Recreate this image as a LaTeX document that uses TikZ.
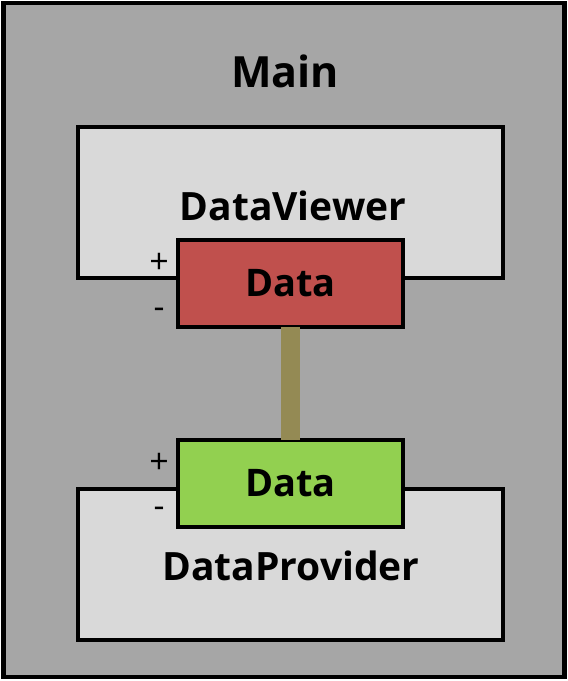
\documentclass[tikz,border=0pt]{standalone}
\usepackage{fontspec}
\setmainfont{Open Sans}
\definecolor{outerfill}{HTML}{A6A6A6}
\definecolor{innerfill}{HTML}{D9D9D9}
\definecolor{redport}{HTML}{C0504D}
\definecolor{greenport}{HTML}{92D050}
\definecolor{linkcol}{HTML}{948A54}
\begin{document}
\begin{tikzpicture}[x=1pt,y=-1pt,
  compbox/.style={draw=black,line width=3.5pt,fill=innerfill,inner sep=0pt,minimum width=425pt,minimum height=151pt},
  portbox/.style={draw=black,line width=3.5pt,inner sep=0pt,minimum width=225pt,minimum height=87pt,font=\fontsize{38}{40}\selectfont\bfseries},
  lbl/.style={font=\fontsize{39}{42}\selectfont\bfseries,inner sep=0pt},
  sign/.style={font=\fontsize{34}{36}\selectfont,inner sep=0pt}]
\useasboundingbox (0,0) rectangle (568,681);
\node[draw=black,line width=4.5pt,fill=outerfill,minimum width=561pt,minimum height=674pt,inner sep=0pt] (main) at (283.75,340) {};
\node[lbl,font=\fontsize{43}{46}\selectfont\bfseries] (mainlbl) at (285,71) {Main};
\node[compbox] (viewer) at (290.5,202.5) {};
\node[lbl] (viewerlbl) at (293,206) {DataViewer};
\node[compbox] (provider) at (290.5,564.5) {};
\node[lbl] (providerlbl) at (291,566) {DataProvider};
\node[portbox,fill=redport] (dred) at (290.5,283.5) {Data};
\node[portbox,fill=greenport] (dgreen) at (290.5,483.5) {Data};
\draw[linkcol,line width=19pt] ([yshift=2pt]dred.south) -- ([yshift=-2pt]dgreen.north);
\node[sign] (p1) at (159,263) {+};
\node[sign] (m1) at (159,313) {-};
\node[sign] (p2) at (159,463) {+};
\node[sign] (m2) at (159,512) {-};
\end{tikzpicture}
\end{document}
